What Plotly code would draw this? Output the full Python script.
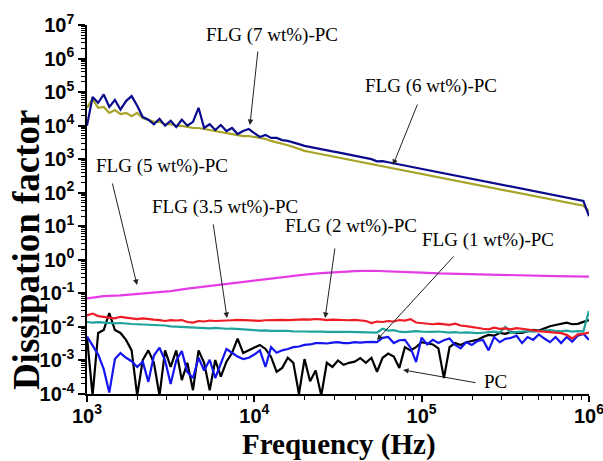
import plotly.graph_objects as go

# Frequency grid (Hz)
freq = [1000, 1080, 1166, 1259, 1359, 1468, 1585, 1711, 1848, 1995,
        2154, 2326, 2512, 2712, 2929, 3162, 3415, 3687, 3981, 4299,
        4642, 5012, 5412, 5843, 6310, 6813, 7356, 7943, 8577, 9261,
        10000, 10800, 11660, 12590, 13590, 14680, 15850, 17110, 18480, 19950,
        21540, 23260, 25120, 27120, 29290, 31620, 34150, 36870, 39810, 42990,
        46420, 50120, 54120, 58430, 63100, 68130, 73560, 79430, 85770, 92610,
        100000, 108000, 116600, 125900, 135900, 146800, 158500, 171100, 184800, 199500,
        215400, 232600, 251200, 271200, 292900, 316200, 341500, 368700, 398100, 429900,
        464200, 501200, 541200, 584300, 631000, 681300, 735600, 794300, 857700, 926100,
        1000000]

freq_coarse = [1000, 1259, 1585, 1995, 2512, 3162, 3981, 5012, 6310, 7943,
               10000, 12590, 15850, 19950, 25120, 31620, 39810, 50120, 63100, 79430,
               100000, 125900, 158500, 199500, 251200, 316200, 398100, 501200, 631000, 794300,
               1000000]

pc = [0.0050, 9e-5, 0.0066, 0.0081, 0.026, 0.0081, 0.0066, 0.0041, 0.0020, 9e-5,
      1.03e-3, 2.0e-3, 8.5e-4, 9e-5, 2.0e-3, 6.4e-4, 2.0e-3, 2.6e-4, 8.5e-4, 1.3e-4,
      2.0e-3, 8.5e-4, 1.3e-4, 1.03e-3, 3.3e-4, 9.2e-4, 1.66e-3, 4.5e-3, 1.66e-3, 2.0e-3,
      2.5e-3, 2.9e-3, 2.2e-3, 1.27e-3, 4.6e-4, 6.0e-4, 1.2e-3, 8.5e-4, 1.0e-4, 1.1e-3,
      2.4e-4, 5.0e-4, 9e-5, 8.5e-4, 6.4e-4, 1.0e-3, 7.4e-4, 8.5e-4, 9.2e-4, 1.17e-3,
      8.5e-4, 1.2e-3, 4.6e-4, 1.2e-3, 1.6e-3, 1.3e-3, 6.0e-4, 2.5e-3, 2.0e-3, 2.5e-3,
      3.5e-3, 3.3e-3, 3.0e-3, 2.3e-3, 3.0e-4, 2.5e-3, 3.3e-3, 2.9e-3, 3.5e-3, 3.8e-3,
      4.1e-3, 5.0e-3, 5.8e-3, 5.5e-3, 6.6e-3, 6.2e-3, 7.1e-3, 6.6e-3, 6.6e-3, 7.5e-3,
      8.1e-3, 7.8e-3, 9.0e-3, 1.05e-2, 1.14e-2, 1.2e-2, 1.33e-2, 1.2e-2, 1.23e-2, 1.41e-2,
      1.6e-2]

flg1 = [0.0052, 0.0028, 0.0015, 5.5e-4, 1.1e-4, 1.1e-3, 1.66e-3, 1.2e-3, 9.5e-4, 6.4e-4,
        9.2e-4, 2.3e-4, 1.4e-3, 2.4e-3, 1.0e-3, 2.0e-4, 1.0e-3, 1.9e-3, 4.5e-4, 3.0e-4,
        1.2e-3, 5.0e-4, 1.05e-3, 3.0e-4, 8.5e-4, 2.2e-3, 1.7e-3, 1.3e-3, 1.1e-3, 1.2e-3,
        1.5e-3, 2.0e-3, 6.4e-4, 2.5e-3, 1.7e-3, 2.0e-3, 2.2e-3, 2.5e-3, 2.6e-3, 2.9e-3,
        3.0e-3, 3.3e-3, 3.3e-3, 3.2e-3, 3.4e-3, 3.5e-3, 3.3e-3, 3.3e-3, 3.5e-3, 3.4e-3,
        3.5e-3, 3.6e-3, 3.5e-3, 4.7e-3, 5.0e-3, 3.3e-3, 4.0e-3, 4.1e-3, 2.4e-3, 9.0e-4,
        4.8e-3, 3.0e-3, 4.1e-3, 3.3e-3, 4.0e-3, 4.5e-3, 2.9e-3, 2.3e-3, 3.5e-3, 2.9e-3,
        3.8e-3, 4.1e-3, 2.0e-3, 5.0e-3, 3.5e-3, 4.4e-3, 4.7e-3, 5.5e-3, 3.3e-3, 5.0e-3,
        4.1e-3, 6.0e-3, 4.5e-3, 3.5e-3, 5.0e-3, 3.3e-3, 5.0e-3, 3.6e-3, 5.5e-3, 6.2e-3,
        4.1e-3]

flg2 = [0.014, 0.0135, 0.0138, 0.0133, 0.0130, 0.0128, 0.0131, 0.0125, 0.0122, 0.0120,
        0.0118, 0.0115, 0.0117, 0.0112, 0.011, 0.0104, 0.0102, 0.0105, 0.0098, 0.0100,
        0.0096, 0.0093, 0.0091, 0.0094, 0.0090, 0.0088, 0.0089, 0.0087, 0.0085, 0.0086,
        0.0080, 0.0078, 0.0079, 0.0076, 0.0077, 0.0075, 0.0076, 0.0074, 0.0075, 0.0073,
        0.0072, 0.0073, 0.0072, 0.0071, 0.0072, 0.0070, 0.0071, 0.0071, 0.0070, 0.0071,
        0.0069, 0.0070, 0.0068, 0.0088, 0.0078, 0.0080, 0.0072, 0.0070, 0.0073, 0.0075,
        0.0072, 0.0070, 0.0071, 0.0073, 0.0069, 0.0068, 0.0070, 0.0067, 0.0069, 0.0066,
        0.0065, 0.0067, 0.0068, 0.0072, 0.0068, 0.0100, 0.0068, 0.0070, 0.0073, 0.0075,
        0.0072, 0.0074, 0.0078, 0.0080, 0.0076, 0.0074, 0.0077, 0.0072, 0.0075, 0.0074,
        0.030]

flg35 = [0.022, 0.025, 0.021, 0.020, 0.019, 0.018, 0.020, 0.019, 0.018, 0.017,
         0.018, 0.017, 0.0165, 0.016, 0.015, 0.016, 0.0155, 0.016, 0.014, 0.0135,
         0.015, 0.0145, 0.0155, 0.015, 0.0155, 0.016, 0.0158, 0.0162, 0.016, 0.0155,
         0.015, 0.0152, 0.0158, 0.016, 0.0165, 0.0162, 0.016, 0.0165, 0.017, 0.0168,
         0.0165, 0.0172, 0.0168, 0.016, 0.0165, 0.0162, 0.016, 0.0158, 0.0162, 0.0155,
         0.015, 0.013, 0.0145, 0.014, 0.015, 0.0145, 0.016, 0.0155, 0.017, 0.0135,
         0.013, 0.0125, 0.012, 0.0125, 0.0118, 0.0115, 0.0125, 0.011, 0.0105, 0.0098,
         0.0092, 0.0088, 0.0085, 0.0095, 0.0088, 0.009, 0.0085, 0.0092, 0.0088, 0.0082,
         0.0078, 0.0075, 0.0072, 0.0070, 0.0068, 0.0065, 0.0058, 0.0045, 0.006, 0.0062,
         0.0068]

flg5 = [0.071, 0.083, 0.087, 0.095, 0.103, 0.116, 0.138, 0.163, 0.183, 0.209,
        0.241, 0.282, 0.321, 0.363, 0.40, 0.435, 0.459, 0.472, 0.459, 0.438,
        0.417, 0.394, 0.381, 0.368, 0.358, 0.351, 0.343, 0.334, 0.327, 0.321,
        0.316]

flg6 = [3.4e4, 6.2e4, 3.4e4, 3.6e4, 2.4e4, 2.9e4, 2.2e4, 2.4e4, 1.9e4, 2.4e4,
        1.7e4, 1.5e4, 1.3e4, 1.3e4, 1.1e4, 1.1e4, 9.8e3, 9.8e3, 9.1e3, 8.5e3,
        8.5e3, 7.9e3, 7.4e3, 6.9e3, 6.5e3, 6.0e3, 5.6e3, 5.2e3, 4.9e3, 4.9e3,
        4.6e3, 4.3e3, 4.0e3, 3.5e3, 3.2e3, 3.0e3, 2.6e3, 2.3e3, 2.0e3,
        1.77e3, 1.64e3, 1.52e3, 1.41e3, 1.31e3, 1.21e3, 1.12e3, 1.04e3, 9.7e2, 9.0e2,
        8.3e2, 7.7e2, 7.1e2, 6.6e2, 6.1e2, 5.7e2, 5.3e2, 4.9e2, 4.5e2, 4.2e2,
        3.9e2, 3.6e2, 3.4e2, 3.1e2, 2.9e2, 2.7e2, 2.5e2, 2.3e2, 2.1e2, 2.0e2,
        1.8e2, 1.7e2, 1.58e2, 1.47e2, 1.36e2, 1.26e2, 1.17e2, 1.08e2, 1.0e2, 9.3e1,
        8.6e1, 8.0e1, 7.4e1, 6.9e1, 6.4e1, 5.9e1, 5.5e1, 5.1e1, 4.7e1, 4.4e1,
        4.1e1, 2.8e1]

flg7 = [1.0e4, 7.1e4, 4.8e4, 8.5e4, 3.6e4, 5.8e4, 3.0e4, 5.4e4, 7.6e4, 3.9e4,
        1.8e4, 1.5e4, 1.1e4, 1.6e4, 1.0e4, 1.4e4, 9.1e3, 1.5e4, 1.0e4, 1.3e4,
        3.4e4, 8.5e3, 1.1e4, 7.4e3, 1.05e4, 6.9e3, 8.5e3, 5.6e3, 6.9e3, 7.9e3,
        6.0e3, 4.6e3, 5.3e3, 4.3e3, 4.3e3, 3.7e3, 3.5e3, 3.2e3, 2.8e3,
        2.5e3, 2.3e3, 2.15e3, 2.0e3, 1.85e3, 1.7e3, 1.6e3, 1.47e3, 1.36e3, 1.27e3,
        1.17e3, 1.09e3, 1.0e3, 8.6e2, 8.7e2, 8.1e2, 7.5e2, 6.9e2, 6.4e2, 6.0e2,
        5.5e2, 5.1e2, 4.75e2, 4.4e2, 4.1e2, 3.8e2, 3.5e2, 3.25e2, 3.0e2, 2.8e2,
        2.6e2, 2.4e2, 2.23e2, 2.07e2, 1.92e2, 1.78e2, 1.65e2, 1.53e2, 1.42e2, 1.32e2,
        1.22e2, 1.13e2, 1.05e2, 9.8e1, 9.0e1, 8.4e1, 7.8e1, 7.2e1, 6.7e1, 6.2e1,
        5.7e1, 2.0e1]

x_tickvals = [1e3, 1e4, 1e5, 1e6]
x_ticktext = ['10<sup>3</sup>', '10<sup>4</sup>', '10<sup>5</sup>', '10<sup>6</sup>']
y_tickvals = [1e-4, 1e-3, 1e-2, 1e-1, 1e0, 1e1, 1e2, 1e3, 1e4, 1e5, 1e6, 1e7]
y_ticktext = ['10<sup>-4</sup>', '10<sup>-3</sup>', '10<sup>-2</sup>', '10<sup>-1</sup>',
              '10<sup>0</sup>', '10<sup>1</sup>', '10<sup>2</sup>', '10<sup>3</sup>',
              '10<sup>4</sup>', '10<sup>5</sup>', '10<sup>6</sup>', '10<sup>7</sup>']

series = [
    ('PC', freq, pc, '#000000'),
    ('FLG (1 wt%)-PC', freq, flg1, '#1515f0'),
    ('FLG (2 wt%)-PC', freq, flg2, '#20a39c'),
    ('FLG (3.5 wt%)-PC', freq, flg35, '#ee1c24'),
    ('FLG (5 wt%)-PC', freq_coarse, flg5, '#e53be5'),
    ('FLG (6 wt%)-PC', freq, flg6, '#a6a327'),
    ('FLG (7 wt%)-PC', freq, flg7, '#0a0a8c'),
]

fig = go.Figure()
for name, xs, ys, col in series:
    fig.add_trace(go.Scatter(x=xs, y=ys, mode='lines', name=name,
                             line=dict(color=col, width=2.2), cliponaxis=True))

tickfont = dict(family='Liberation Sans, Arial', size=20, color='black', weight='bold')
fig.update_xaxes(type='log', range=[3, 6.0002], showline=True, linecolor='black', linewidth=1.5,
                 ticks='outside', ticklen=6, tickwidth=1.5, tickcolor='black',
                 tickmode='array', tickvals=x_tickvals, ticktext=x_ticktext,
                 tickfont=tickfont, showgrid=False, zeroline=False, automargin=False,
                 ticklabelstandoff=-3, ticklabeloverflow='allow',
                 minor=dict(ticks='outside', ticklen=4, tickwidth=1, tickcolor='black',
                            dtick='D1', showgrid=False))
fig.update_yaxes(type='log', range=[-4, 7], showline=True, linecolor='black', linewidth=1.5,
                 ticks='outside', ticklen=7, tickwidth=1.5, tickcolor='black',
                 tickmode='array', tickvals=y_tickvals, ticktext=y_ticktext,
                 tickfont=tickfont, showgrid=False, zeroline=False, automargin=False,
                 ticklabeloverflow='allow',
                 minor=dict(ticks='outside', ticklen=4, tickwidth=1, tickcolor='black',
                            dtick='D1', showgrid=False))

# labels: (text, text_x_log, text_y_log, head_x_log, head_y_log, tail dx, tail dy)
labels = [
    ('FLG (7 wt%)-PC', 4.106, 6.702, 3.974, 4.019, 8, -75),
    ('FLG (6 wt%)-PC', 5.056, 5.182, 4.829, 2.827, 25, -62),
    ('FLG (5 wt%)-PC', 3.448, 2.797, 3.299, -0.750, -25, -103),
    ('FLG (3.5 wt%)-PC', 3.825, 1.575, 3.837, -1.733, -14, -95),
    ('FLG (2 wt%)-PC', 4.578, 1.009, 4.423, -1.733, 10, -71),
    ('FLG (1 wt%)-PC', 5.397, 0.592, 4.733, -2.389, 78, -85),
    ('PC', 5.439, -3.641, 4.889, -3.283, 74, 13),
]
annfont = dict(family='Liberation Serif, Times New Roman', size=19, color='black')
for txt, tx, ty, hx, hy, dx, dy in labels:
    fig.add_annotation(x=tx, y=ty, xref='x', yref='y', text=txt, showarrow=False,
                       font=annfont, xanchor='center', yanchor='middle')
    fig.add_annotation(x=hx, y=hy, xref='x', yref='y', text='', showarrow=True,
                       ax=dx, ay=dy, arrowhead=2, arrowsize=1.1, arrowwidth=1,
                       arrowcolor='#222222', standoff=0)

fig.add_annotation(x=-0.1215, y=0.39, xref='paper', yref='paper', text='Dissipation factor',
                   textangle=-90, showarrow=False,
                   font=dict(family='Liberation Serif, Times New Roman', size=37,
                             color='black', weight='bold'),
                   xanchor='center', yanchor='middle')
fig.add_annotation(x=0.501, y=-0.136, xref='paper', yref='paper', text='Frequency (Hz)',
                   showarrow=False,
                   font=dict(family='Liberation Serif, Times New Roman', size=29,
                             color='black', weight='bold'),
                   xanchor='center', yanchor='middle')

fig.update_layout(width=603, height=461, margin=dict(l=87, r=14, t=25, b=67),
                  plot_bgcolor='white', paper_bgcolor='white', showlegend=False)

fig.write_html('out.html', config={'displayModeBar': False},
               post_script="document.body.style.margin='0';document.body.style.overflow='hidden';")
